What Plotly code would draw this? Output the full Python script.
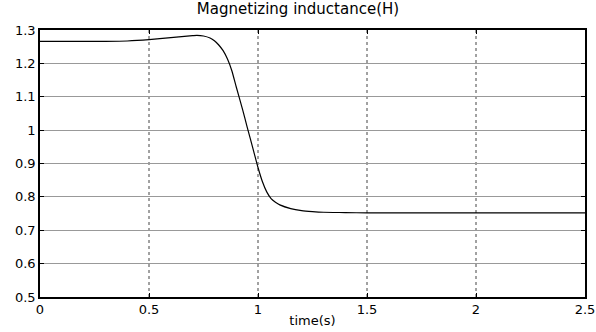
import plotly.graph_objects as go

time_s = [0, 0.1, 0.2, 0.3, 0.4, 0.5, 0.6, 0.65, 0.7, 0.72, 0.75, 0.78, 0.8, 0.82,
          0.84, 0.86, 0.88, 0.9, 0.93, 0.95, 0.98, 1.0, 1.02, 1.04, 1.06, 1.08, 1.1,
          1.15, 1.2, 1.25, 1.3, 1.4, 1.5, 1.75, 2.0, 2.25, 2.5]
inductance_h = [1.266, 1.266, 1.266, 1.266, 1.267, 1.271, 1.277, 1.280, 1.283, 1.284,
                1.282, 1.276, 1.268, 1.255, 1.238, 1.213, 1.178, 1.13, 1.06, 1.01,
                0.937, 0.888, 0.846, 0.815, 0.795, 0.784, 0.776, 0.765, 0.759, 0.756,
                0.754, 0.753, 0.752, 0.752, 0.752, 0.752, 0.752]

x_ticks = [0, 0.5, 1, 1.5, 2, 2.5]
y_ticks = [0.5, 0.6, 0.7, 0.8, 0.9, 1.0, 1.1, 1.2, 1.3]

fig = go.Figure()
fig.add_trace(go.Scatter(x=time_s, y=inductance_h, mode="lines",
                         line=dict(color="black", width=1.2, shape="spline", smoothing=0.5),
                         showlegend=False, cliponaxis=True))

# vertical dotted grid lines
for xv in x_ticks[1:-1]:
    fig.add_shape(type="line", x0=xv, x1=xv, y0=0, y1=1, xref="x", yref="paper",
                  line=dict(color="#444444", width=1, dash="dot"), layer="below")

font = dict(family="DejaVu Sans, Arial, sans-serif", size=13, color="black")
fig.update_layout(
    width=596, height=332,
    margin=dict(l=40, r=11, t=30, b=35),
    paper_bgcolor="white", plot_bgcolor="white",
    font=font,
    title=dict(text="Magnetizing inductance(H)", x=0.5, xanchor="center",
               y=0.99, yanchor="top", font=dict(size=15, color="black")),
    xaxis=dict(range=[0, 2.5], tickvals=x_ticks, showgrid=False, zeroline=False,
               showline=True, linecolor="black", linewidth=1.5, mirror="ticks",
               ticks="inside", ticklen=4, tickcolor="black", automargin=False,
               tickfont=dict(size=13),
               title=dict(text="time(s)", standoff=0, font=dict(size=13))),
    yaxis=dict(range=[0.5, 1.3], tickvals=y_ticks, showgrid=True, gridcolor="#999999",
               gridwidth=1, zeroline=False, showline=True, linecolor="black",
               linewidth=1.5, mirror="ticks", ticks="inside", ticklen=4, tickcolor="black",
               automargin=False, tickfont=dict(size=13)),
)
fig.write_html("out.html")
